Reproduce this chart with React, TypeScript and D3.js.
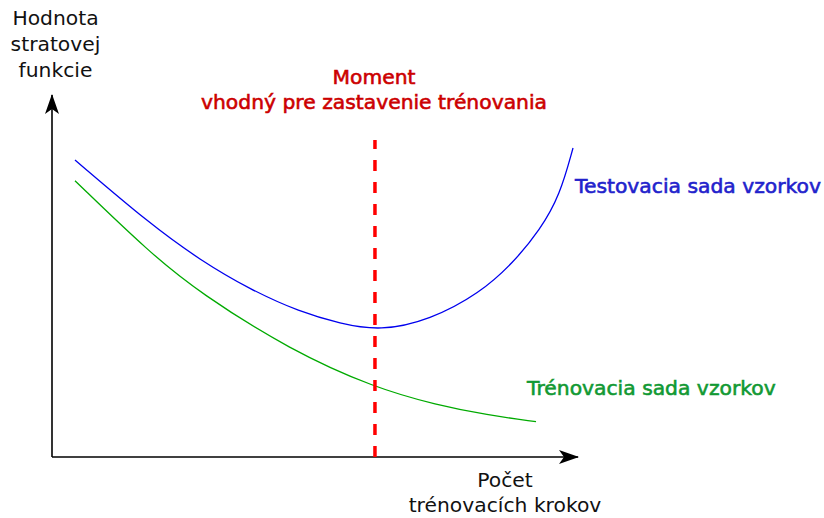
import React from "react";
import * as d3 from "d3";

// training steps (x) vs. loss value (y), both in 0..100 units
const testSteps = [4.37, 18.63, 28.14, 37.64, 47.15, 54.75, 62.36, 71.86, 81.37, 87.64, 92.78, 96.58, 99.05];
const testLoss = [82.04, 64.36, 54.42, 46.27, 40.06, 36.88, 34.8, 37.85, 45.3, 53.59, 62.71, 72.38, 85.36];
const trainSteps = [4.37, 18.63, 28.14, 45.25, 61.41, 73.19, 82.7, 92.02];
const trainLoss = [76.33, 56.35, 45.3, 29.56, 19.06, 14.36, 11.6, 9.75];
const stopStep = 61.4;
const stopTop = 87.6;

const yTitle = ["Hodnota", "stratovej", "funkcie"];
const xTitle = ["Počet", "trénovacích krokov"];
const stopTitle = ["Moment", "vhodný pre zastavenie trénovania"];
const testName = "Testovacia sada vzorkov";
const trainName = "Trénovacia sada vzorkov";

const W = 824;
const H = 518;
const FONT = "DejaVu Sans, sans-serif";

const App = () => {
  const x = d3.scaleLinear().domain([0, 100]).range([52, 578]);
  const y = d3.scaleLinear().domain([0, 100]).range([457, 95]);

  const line = d3
    .line<[number, number]>()
    .x(d => x(d[0]))
    .y(d => y(d[1]))
    .curve(d3.curveBasis);

  const testPts = testSteps.map((s, i) => [s, testLoss[i]] as [number, number]);
  const trainPts = trainSteps.map((s, i) => [s, trainLoss[i]] as [number, number]);

  const x0 = x(0);
  const y0 = y(0);
  const xEnd = x(100);
  const yEnd = y(100);

  return (
    <svg
      width={W}
      height={H}
      style={{ position: "absolute", left: 0, top: 0, background: "#fff" }}
      fontFamily={FONT}
    >
      <defs>
        <marker
          id="arrow"
          viewBox="0 0 20 14"
          refX="19"
          refY="7"
          markerWidth="20"
          markerHeight="14"
          markerUnits="userSpaceOnUse"
          orient="auto"
        >
          <path d="M0,0 L20,7 L0,14 L5,7 Z" fill="#000" />
        </marker>
      </defs>

      {/* axes */}
      <line x1={x0} y1={y0} x2={xEnd} y2={y0} stroke="#000" strokeWidth={1.6} markerEnd="url(#arrow)" />
      <line x1={x0} y1={y0} x2={x0} y2={yEnd} stroke="#000" strokeWidth={1.6} markerEnd="url(#arrow)" />

      {/* curves */}
      <path d={line(trainPts) || ""} fill="none" stroke="#00aa00" strokeWidth={1.3} />
      <path d={line(testPts) || ""} fill="none" stroke="#0000ee" strokeWidth={1.3} />

      {/* early stopping line */}
      <line
        x1={x(stopStep)}
        x2={x(stopStep)}
        y1={y0}
        y2={y(stopTop)}
        stroke="#ff0000"
        strokeWidth={3.5}
        strokeDasharray="11 11"
      />

      {/* axis titles */}
      <text fontSize={20.3} textAnchor="middle" fill="#111">
        {yTitle.map((t, i) => (
          <tspan key={i} x={55.5} y={25 + i * 25.8}>
            {t}
          </tspan>
        ))}
      </text>
      <text fontSize={20.3} textAnchor="middle" fill="#111">
        {xTitle.map((t, i) => (
          <tspan key={i} x={505} y={487 + i * 25}>
            {t}
          </tspan>
        ))}
      </text>

      {/* annotations */}
      <text fontSize={20.3} textAnchor="middle" fill="#cc0000" stroke="#cc0000" strokeWidth={0.6}>
        {stopTitle.map((t, i) => (
          <tspan key={i} x={374} y={84 + i * 24.5}>
            {t}
          </tspan>
        ))}
      </text>
      <text x={575} y={193} fontSize={20.3} fill="#2222cc" stroke="#2222cc" strokeWidth={0.6}>
        {testName}
      </text>
      <text x={527} y={395} fontSize={20.3} fill="#119933" stroke="#119933" strokeWidth={0.6}>
        {trainName}
      </text>
    </svg>
  );
};

export default App;
